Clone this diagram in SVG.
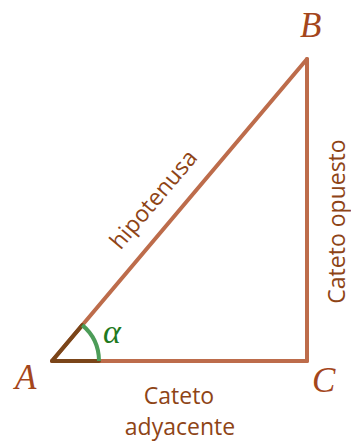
<svg xmlns="http://www.w3.org/2000/svg" width="351" height="442" viewBox="0 0 351 442">
<style>
.side{stroke:#bd6c4b;stroke-width:4;fill:none;stroke-linecap:round;stroke-linejoin:round}
.dark{stroke:#7a4519;stroke-width:4;fill:none;stroke-linecap:round;stroke-linejoin:round}
.arc{stroke:#4c9c58;stroke-width:4;fill:none}
.lbl{font-family:"Open Sans","Noto Sans",sans-serif;font-size:23px;fill:#8e4416;text-anchor:middle}
.pt{font-family:"Liberation Serif","DejaVu Serif",serif;font-style:italic;font-size:35px;fill:#a4461c}
.ang{font-family:"Liberation Serif","DejaVu Serif",serif;font-style:italic;font-size:34px;fill:#1f7a1f}
</style>
<rect width="351" height="442" fill="#ffffff"/>
<g id="connectors">
<path id="hyp" class="side" d="M52 361 L307 59"/>
<path id="opp" class="side" d="M307 59 L307 361"/>
<path id="adj" class="side" d="M52 361 L307 361"/>
</g>
<g id="angle">
<path class="dark" d="M82.3 325.1 L52 361 L99 361"/>
<path class="arc" d="M99 361 A47 47 0 0 0 82.3 325.1"/>
<text class="ang" x="103" y="343">α</text>
</g>
<g id="A"><text class="pt" x="15" y="389">A</text></g>
<g id="B"><text class="pt" x="300" y="37">B</text></g>
<g id="C"><text class="pt" x="312" y="392">C</text></g>
<g id="hipotenusa"><text class="lbl" transform="translate(159.5 204.5) rotate(-49.8)" x="0" y="0" font-size="24">hipotenusa</text></g>
<g id="opuesto"><text class="lbl" transform="translate(344.5 221.5) rotate(-90)" x="0" y="0">Cateto opuesto</text></g>
<g id="adyacente">
<text class="lbl" x="179" y="404">Cateto</text>
<text class="lbl" x="180" y="435">adyacente</text>
</g>
</svg>
